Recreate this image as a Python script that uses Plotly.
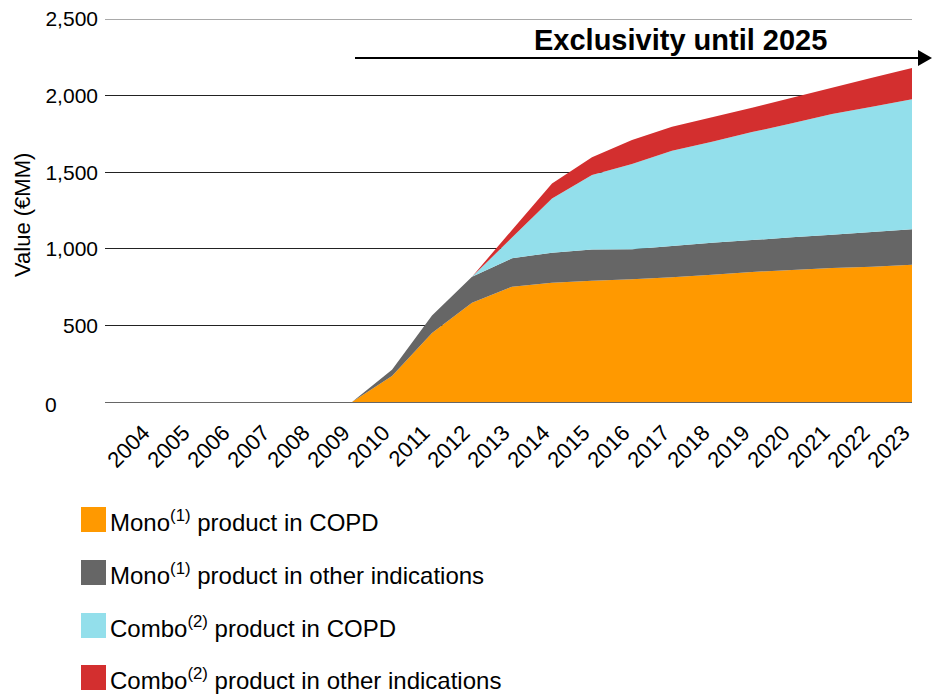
import plotly.graph_objects as go

# Forecast years and sales by segment (EUR millions)
years = list(range(2004, 2024))
mono_copd = [0, 0, 0, 0, 0, 0, 170, 450, 648, 753, 779, 792, 801, 814, 831, 849, 862, 875, 883, 896]
mono_other = [0, 0, 0, 0, 0, 0, 40, 115, 170, 185, 196, 204, 196, 204, 209, 208, 213, 217, 227, 231]
combo_copd = [0, 0, 0, 0, 0, 0, 0, 0, 0, 135, 354, 486, 556, 622, 659, 705, 744, 788, 817, 849]
combo_other = [0, 0, 0, 0, 0, 0, 0, 0, 0, 50, 98, 115, 157, 157, 159, 159, 167, 172, 190, 204]

series_names = [
    "Mono<sup>(1)</sup> product in COPD",
    "Mono<sup>(1)</sup> product in other indications",
    "Combo<sup>(2)</sup> product in COPD",
    "Combo<sup>(2)</sup> product in other indications",
]
series_values = [mono_copd, mono_other, combo_copd, combo_other]
series_colors = ["#FF9900", "#666666", "#93DFEB", "#D32F2F"]

y_ticks = [500, 1000, 1500, 2000, 2500]
y_ticktext = ["500", "1,000", "1,500", "2,000", "2,500"]

FONT = "Arial, Liberation Sans, sans-serif"
NBSP = "\u00a0"

fig = go.Figure()
for name, vals, col in zip(series_names, series_values, series_colors):
    fig.add_trace(go.Scatter(
        x=years, y=vals, name=name, stackgroup="one", mode="none",
        fillcolor=col, line=dict(width=0), showlegend=False,
    ))

# plot area in pixels: left 105, right 912, top 19, bottom 402
L, R, T, B = 105, 912, 19, 402


def px(xp):
    return (xp - L) / (R - L)


def py(yp):
    return (B - yp) / (B - T)


shapes = []
annotations = []

# top gridline sits on the edge of the plot area
shapes.append(dict(type="line", xref="paper", yref="y", x0=0, x1=1, y0=2500, y1=2500,
                   line=dict(color="#555555", width=1), layer="below"))

# exclusivity arrow
shapes.append(dict(type="line", xref="paper", yref="paper",
                   x0=px(355), x1=px(919), y0=py(58), y1=py(58),
                   line=dict(color="black", width=2)))
shapes.append(dict(type="path", xref="paper", yref="paper",
                   path=f"M {px(918)} {py(50)} L {px(932)} {py(58)} L {px(918)} {py(66)} Z",
                   fillcolor="black", line=dict(width=0)))
annotations.append(dict(xref="paper", yref="paper", x=px(680.5), y=py(40),
                        text="<b>Exclusivity until 2025</b>", showarrow=False,
                        xanchor="center", yanchor="middle",
                        font=dict(family=FONT, size=29, color="black")))

# zero label
annotations.append(dict(xref="paper", yref="paper", x=px(51), y=py(404),
                        text="0", showarrow=False, xanchor="center", yanchor="middle",
                        font=dict(family=FONT, size=21, color="black")))

# y-axis title
annotations.append(dict(xref="paper", yref="paper", x=px(22), y=py(215),
                        text="Value (€MM)", showarrow=False, textangle=-90,
                        xanchor="center", yanchor="middle",
                        font=dict(family=FONT, size=22, color="black")))

# legend
legend_y = [519.5, 572.5, 625.5, 677.5]
for name, col, cy in zip(series_names, series_colors, legend_y):
    shapes.append(dict(type="rect", xref="paper", yref="paper",
                       x0=px(81), x1=px(106), y0=py(cy - 12.5), y1=py(cy + 12.5),
                       fillcolor=col, line=dict(width=0)))
    annotations.append(dict(xref="paper", yref="paper", x=px(108), y=py(cy + 1),
                            text=name, showarrow=False, xanchor="left", yanchor="middle",
                            font=dict(family=FONT, size=24, color="black")))

fig.update_layout(
    width=932, height=700,
    margin=dict(l=L, r=932 - R, t=T, b=700 - B, pad=0, autoexpand=False),
    paper_bgcolor="white", plot_bgcolor="white",
    font=dict(family=FONT, size=21, color="black"),
    shapes=shapes, annotations=annotations,
    showlegend=False,
    xaxis=dict(
        range=[2023 - (R - L) / 40.0, 2023],
        tickmode="array", tickvals=years,
        ticktext=[str(y) + NBSP * 2 for y in years],
        tickangle=-45, showgrid=False, zeroline=False, showline=False,
        ticks="", ticklabelstandoff=4,
        tickfont=dict(family=FONT, size=22, color="black"),
        automargin=False, fixedrange=True,
    ),
    yaxis=dict(
        range=[0, 2500], tickmode="array", tickvals=y_ticks, ticktext=y_ticktext,
        showgrid=True, gridcolor="#222222", gridwidth=1,
        zeroline=True, zerolinecolor="#666666", zerolinewidth=1,
        showline=False, ticks="", ticklabelstandoff=6,
        tickfont=dict(family=FONT, size=21, color="black"),
        automargin=False, fixedrange=True,
    ),
)

fig.write_html("out.html")
